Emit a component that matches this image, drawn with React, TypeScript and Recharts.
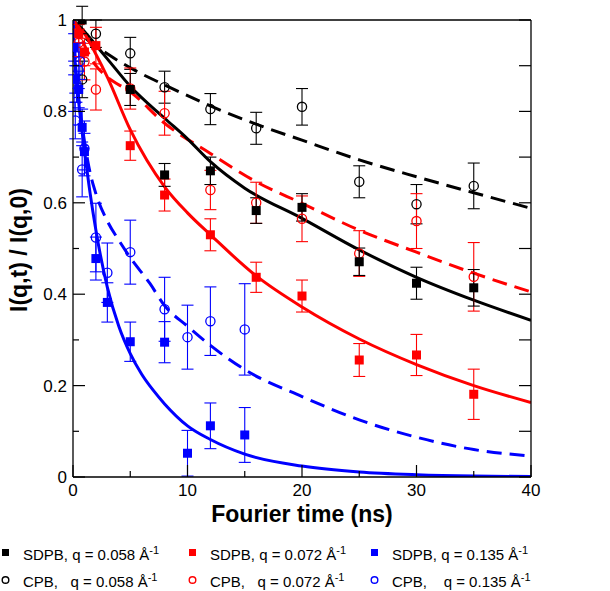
import React from "react";
import { ComposedChart, Line, Scatter, XAxis, YAxis, ErrorBar, Label } from "recharts";

type P = { x: number; y: number; e?: number };

const xTicks = [0, 5, 10, 15, 20, 25, 30, 35, 40];
const xLabels = [0, 10, 20, 30, 40];
const yTicks = [0, 0.1, 0.2, 0.3, 0.4, 0.5, 0.6, 0.7, 0.8, 0.9, 1];
const yLabels = ["0", "0.2", "0.4", "0.6", "0.8", "1"];

// SDPB, q = 0.058
const blackSquares: P[] = [
  { x: 0.8, y: 1.0, e: 0.03 }, { x: 5, y: 0.848, e: 0.035 }, { x: 8, y: 0.661, e: 0.025 },
  { x: 12, y: 0.67, e: 0.03 }, { x: 16, y: 0.583, e: 0.028 }, { x: 20, y: 0.59, e: 0.03 },
  { x: 25, y: 0.471, e: 0.03 }, { x: 30, y: 0.424, e: 0.035 }, { x: 35, y: 0.414, e: 0.04 },
];
// CPB, q = 0.058
const blackCircles: P[] = [
  { x: 0.8, y: 0.87, e: 0.04 }, { x: 2, y: 0.97, e: 0.03 }, { x: 5, y: 0.927, e: 0.035 },
  { x: 8, y: 0.853, e: 0.035 }, { x: 12, y: 0.805, e: 0.034 }, { x: 16, y: 0.763, e: 0.035 },
  { x: 20, y: 0.81, e: 0.04 }, { x: 25, y: 0.646, e: 0.035 }, { x: 30, y: 0.597, e: 0.043 },
  { x: 35, y: 0.637, e: 0.05 },
];
// SDPB, q = 0.072
const redSquares: P[] = [
  { x: 0.5, y: 0.97, e: 0.02 }, { x: 1, y: 0.93, e: 0.03 }, { x: 2, y: 0.944, e: 0.04 },
  { x: 5, y: 0.725, e: 0.032 }, { x: 8, y: 0.617, e: 0.035 }, { x: 12, y: 0.53, e: 0.035 },
  { x: 16, y: 0.437, e: 0.033 }, { x: 20, y: 0.396, e: 0.035 }, { x: 25, y: 0.256, e: 0.036 },
  { x: 30, y: 0.267, e: 0.045 }, { x: 35, y: 0.181, e: 0.055 },
];
// CPB, q = 0.072
const redCircles: P[] = [
  { x: 0.5, y: 0.95, e: 0.03 }, { x: 1, y: 0.909, e: 0.04 }, { x: 2, y: 0.848, e: 0.045 },
  { x: 5, y: 0.85, e: 0.045 }, { x: 8, y: 0.796, e: 0.048 }, { x: 12, y: 0.628, e: 0.043 },
  { x: 16, y: 0.6, e: 0.045 }, { x: 20, y: 0.565, e: 0.05 }, { x: 25, y: 0.489, e: 0.05 },
  { x: 30, y: 0.56, e: 0.06 }, { x: 35, y: 0.438, e: 0.075 },
];
// SDPB, q = 0.135
const blueSquares: P[] = [
  { x: 0.1, y: 0.94, e: 0.03 }, { x: 0.2, y: 0.87, e: 0.03 }, { x: 0.5, y: 0.848, e: 0.04 },
  { x: 0.8, y: 0.765, e: 0.04 }, { x: 1, y: 0.712, e: 0.04 }, { x: 2, y: 0.478, e: 0.047 },
  { x: 3, y: 0.382, e: 0.043 }, { x: 5, y: 0.296, e: 0.043 }, { x: 8, y: 0.295, e: 0.045 },
  { x: 10, y: 0.052, e: 0.05 }, { x: 12, y: 0.112, e: 0.05 }, { x: 15, y: 0.092, e: 0.06 },
];
// CPB, q = 0.135
const blueCircles: P[] = [
  { x: 0.1, y: 0.84, e: 0.04 }, { x: 0.2, y: 0.78, e: 0.04 }, { x: 0.3, y: 0.86, e: 0.04 },
  { x: 0.5, y: 0.89, e: 0.04 }, { x: 0.6, y: 0.91, e: 0.04 }, { x: 0.8, y: 0.673, e: 0.06 },
  { x: 1, y: 0.719, e: 0.06 }, { x: 2, y: 0.524, e: 0.075 }, { x: 3, y: 0.447, e: 0.065 },
  { x: 5, y: 0.492, e: 0.07 }, { x: 8, y: 0.367, e: 0.07 }, { x: 10, y: 0.306, e: 0.07 },
  { x: 12, y: 0.341, e: 0.075 }, { x: 15, y: 0.323, e: 0.1 },
];

// fitted curves
const blackSolid: P[] = [
  { x: 0, y: 1 }, { x: 1, y: 0.975 }, { x: 2, y: 0.945 }, { x: 3, y: 0.915 }, { x: 5, y: 0.855 },
  { x: 8, y: 0.785 }, { x: 10, y: 0.74 }, { x: 12, y: 0.69 }, { x: 15, y: 0.632 }, { x: 20, y: 0.566 },
  { x: 25, y: 0.497 }, { x: 30, y: 0.437 }, { x: 35, y: 0.387 }, { x: 40, y: 0.343 },
];
const blackDashed: P[] = [
  { x: 0, y: 1 }, { x: 0.5, y: 0.975 }, { x: 1, y: 0.962 }, { x: 2, y: 0.943 }, { x: 4, y: 0.91 },
  { x: 6, y: 0.882 }, { x: 8, y: 0.858 }, { x: 12, y: 0.812 }, { x: 16, y: 0.772 }, { x: 20, y: 0.737 },
  { x: 25, y: 0.694 }, { x: 30, y: 0.657 }, { x: 35, y: 0.622 }, { x: 40, y: 0.588 },
];
const redSolid: P[] = [
  { x: 0, y: 1 }, { x: 0.5, y: 0.985 }, { x: 1, y: 0.97 }, { x: 2, y: 0.925 }, { x: 3, y: 0.875 },
  { x: 5, y: 0.76 }, { x: 8, y: 0.635 }, { x: 10, y: 0.578 }, { x: 12, y: 0.53 }, { x: 16, y: 0.44 },
  { x: 20, y: 0.372 }, { x: 25, y: 0.302 }, { x: 30, y: 0.246 }, { x: 35, y: 0.2 }, { x: 40, y: 0.163 },
];
const redDashed: P[] = [
  { x: 0, y: 1 }, { x: 0.3, y: 0.985 }, { x: 1, y: 0.945 }, { x: 2, y: 0.9 }, { x: 3, y: 0.875 },
  { x: 5, y: 0.843 }, { x: 8, y: 0.774 }, { x: 12, y: 0.708 }, { x: 16, y: 0.646 }, { x: 20, y: 0.599 },
  { x: 25, y: 0.54 }, { x: 30, y: 0.492 }, { x: 35, y: 0.446 }, { x: 40, y: 0.405 },
];
const blueSolid: P[] = [
  { x: 0, y: 1 }, { x: 0.2, y: 0.9 }, { x: 0.5, y: 0.82 }, { x: 1, y: 0.715 }, { x: 1.5, y: 0.62 },
  { x: 2, y: 0.54 }, { x: 3, y: 0.415 }, { x: 4, y: 0.33 }, { x: 5, y: 0.27 }, { x: 6, y: 0.225 },
  { x: 7, y: 0.19 }, { x: 8, y: 0.16 }, { x: 10, y: 0.112 }, { x: 12, y: 0.082 }, { x: 15, y: 0.05 },
  { x: 20, y: 0.024 }, { x: 25, y: 0.011 }, { x: 30, y: 0.005 }, { x: 35, y: 0.002 }, { x: 40, y: 0.001 },
];
const blueDashed: P[] = [
  { x: 0, y: 1 }, { x: 0.2, y: 0.91 }, { x: 0.5, y: 0.83 }, { x: 1, y: 0.735 }, { x: 1.5, y: 0.665 },
  { x: 2, y: 0.62 }, { x: 3, y: 0.56 }, { x: 4, y: 0.518 }, { x: 5, y: 0.48 }, { x: 6.7, y: 0.424 },
  { x: 8, y: 0.375 }, { x: 10, y: 0.33 }, { x: 12, y: 0.288 }, { x: 15, y: 0.235 }, { x: 20, y: 0.176 },
  { x: 25, y: 0.125 }, { x: 30, y: 0.087 }, { x: 35, y: 0.06 }, { x: 40, y: 0.046 },
];

const BLACK = "#000000";
const RED = "#ff0000";
const BLUE = "#0000ff";
const FONT = "'Liberation Sans', Arial, Helvetica, sans-serif";

const square = (color: string) => (props: any) => {
  const { cx, cy } = props;
  if (cx == null || cy == null) return <g />;
  return <rect x={cx - 4.5} y={cy - 4.5} width={9} height={9} fill={color} />;
};
const circle = (color: string) => (props: any) => {
  const { cx, cy } = props;
  if (cx == null || cy == null) return <g />;
  return <circle cx={cx} cy={cy} r={4.6} fill="none" stroke={color} strokeWidth={1.3} />;
};

const BottomTick = (props: any) => {
  const { x, y, payload } = props;
  const v = payload.value;
  const major = xLabels.includes(v);
  return (
    <g>
      <line x1={x} x2={x} y1={y} y2={y - (major ? 12 : 6)} stroke={BLACK} strokeWidth={1.2} />
      {major && (
        <text x={x} y={y + 19} textAnchor="middle" fontSize={17} fontFamily={FONT} fill={BLACK}>
          {v}
        </text>
      )}
    </g>
  );
};
const LeftTick = (props: any) => {
  const { x, y, payload } = props;
  const v = payload.value;
  const lbl = v === 0 ? "0" : v === 1 ? "1" : v.toFixed(1);
  const major = yLabels.includes(lbl);
  return (
    <g>
      <line x1={x} x2={x + (major ? 12 : 6)} y1={y} y2={y} stroke={BLACK} strokeWidth={1.2} />
      {major && (
        <text x={x - 6} y={y + 6} textAnchor="end" fontSize={17} fontFamily={FONT} fill={BLACK}>
          {lbl}
        </text>
      )}
    </g>
  );
};
const TopTick = (props: any) => {
  const { x, y } = props;
  return <line x1={x} x2={x} y1={y} y2={y + 12} stroke={BLACK} strokeWidth={1.2} />;
};
const RightTick = (props: any) => {
  const { x, y } = props;
  return <line x1={x} x2={x - 12} y1={y} y2={y} stroke={BLACK} strokeWidth={1.2} />;
};

const legendItems = [
  { label: "SDPB, q = 0.058 Å", color: BLACK, shape: "sq", left: 0, top: 544 },
  { label: "SDPB, q = 0.072 Å", color: RED, shape: "sq", left: 187, top: 544 },
  { label: "SDPB, q = 0.135 Å", color: BLUE, shape: "sq", left: 369, top: 544 },
  { label: "CPB,   q = 0.058 Å", color: BLACK, shape: "ci", left: 0, top: 571 },
  { label: "CPB,   q = 0.072 Å", color: RED, shape: "ci", left: 187, top: 571 },
  { label: "CPB,    q = 0.135 Å", color: BLUE, shape: "ci", left: 369, top: 571 },
];

const lines = [
  { data: blackDashed, color: BLACK, dash: "15 8" },
  { data: redDashed, color: RED, dash: "15 8" },
  { data: blueDashed, color: BLUE, dash: "15 8" },
  { data: blackSolid, color: BLACK, dash: undefined },
  { data: redSolid, color: RED, dash: undefined },
  { data: blueSolid, color: BLUE, dash: undefined },
];

const scatters = [
  { data: blackCircles, color: BLACK, shape: circle(BLACK) },
  { data: redCircles, color: RED, shape: circle(RED) },
  { data: blueCircles, color: BLUE, shape: circle(BLUE) },
  { data: blackSquares, color: BLACK, shape: square(BLACK) },
  { data: redSquares, color: RED, shape: square(RED) },
  { data: blueSquares, color: BLUE, shape: square(BLUE) },
];

export default function App() {
  return (
    <div style={{ position: "absolute", left: 0, top: 0, width: 610, height: 591, background: "#fff" }}>
      <ComposedChart
        width={610}
        height={591}
        margin={{ top: 19, right: 78, bottom: 64, left: 0 }}
      >
        <XAxis
          xAxisId={0}
          dataKey="x"
          type="number"
          domain={[0, 40]}
          ticks={xTicks}
          interval={0}
          allowDataOverflow
          height={50}
          tickSize={0}
          tickMargin={0}
          tick={<BottomTick />}
          axisLine={{ stroke: BLACK, strokeWidth: 1.3 }}
          tickLine={false}
        >
          <Label
            content={() => (
              <text x={302} y={522} textAnchor="middle" fontSize={23} fontWeight="bold" fontFamily={FONT} fill={BLACK}>
                Fourier time (ns)
              </text>
            )}
          />
        </XAxis>
        <XAxis
          xAxisId="top"
          orientation="top"
          type="number"
          domain={[0, 40]}
          ticks={xTicks}
          interval={0}
          allowDataOverflow
          height={1}
          tickSize={0}
          tickMargin={0}
          tick={<TopTick />}
          axisLine={{ stroke: BLACK, strokeWidth: 1.3 }}
          tickLine={false}
        />
        <YAxis
          yAxisId={0}
          dataKey="y"
          type="number"
          domain={[0, 1]}
          ticks={yTicks}
          interval={0}
          allowDataOverflow
          width={73}
          tickSize={0}
          tickMargin={0}
          tick={<LeftTick />}
          axisLine={{ stroke: BLACK, strokeWidth: 1.3 }}
          tickLine={false}
        >
          <Label
            content={() => (
              <text
                x={27}
                y={250}
                transform="rotate(-90 27 250)"
                textAnchor="middle"
                fontSize={23}
                fontWeight="bold"
                fontFamily={FONT}
                fill={BLACK}
              >
                I(q,t) / I(q,0)
              </text>
            )}
          />
        </YAxis>
        <YAxis
          yAxisId="right"
          orientation="right"
          type="number"
          domain={[0, 1]}
          ticks={yTicks}
          interval={0}
          allowDataOverflow
          width={1}
          tickSize={0}
          tickMargin={0}
          tick={<RightTick />}
          axisLine={{ stroke: BLACK, strokeWidth: 1.3 }}
          tickLine={false}
        />
        {lines.map((l, i) => (
          <Line
            key={"l" + i}
            data={l.data}
            dataKey="y"
            type="monotone"
            stroke={l.color}
            strokeWidth={3}
            strokeDasharray={l.dash}
            dot={false}
            activeDot={false}
            isAnimationActive={false}
          />
        ))}
        {scatters.map((s, i) => (
          <Scatter
            key={"s" + i}
            data={s.data}
            dataKey="y"
            fill={s.color}
            shape={s.shape}
            isAnimationActive={false}
          >
            <ErrorBar dataKey="e" direction="y" width={6} stroke={s.color} strokeWidth={1.1} isAnimationActive={false} />
          </Scatter>
        ))}
      </ComposedChart>
      {legendItems.map((it, i) => (
        <div
          key={i}
          style={{
            position: "absolute",
            left: it.left,
            top: it.top,
            height: 18,
            display: "flex",
            alignItems: "center",
            fontFamily: FONT,
            fontSize: 15,
            color: BLACK,
            whiteSpace: "pre",
          }}
        >
          <svg width={12} height={12} style={{ marginLeft: 0, marginRight: 11 }}>
            {it.shape === "sq" ? (
              <rect x={2} y={2} width={7} height={7} fill={it.color} />
            ) : (
              <circle cx={5.5} cy={6} r={3.3} fill="none" stroke={it.color} strokeWidth={1.4} />
            )}
          </svg>
          <span>
            {it.label}
            <sup style={{ fontSize: 11 }}>-1</sup>
          </span>
        </div>
      ))}
    </div>
  );
}
